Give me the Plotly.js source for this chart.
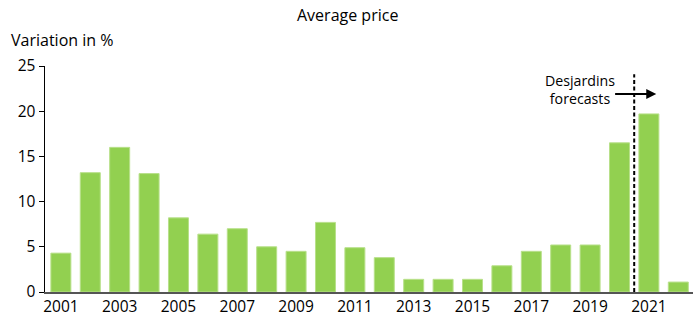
<!DOCTYPE html>
<html><head><meta charset="utf-8">
<script src="https://cdn.plot.ly/plotly-3.0.1.min.js"></script>
<style>html,body{margin:0;padding:0;background:#fff}#c{width:697px;height:316px}</style>
</head><body><div id="c"></div>
<script>
const years = [2001,2002,2003,2004,2005,2006,2007,2008,2009,2010,2011,2012,2013,2014,2015,2016,2017,2018,2019,2020,2021,2022];
const variation = [4.3,13.2,16.0,13.1,8.2,6.4,7.0,5.0,4.5,7.7,4.9,3.8,1.4,1.4,1.4,2.9,4.5,5.2,5.2,16.5,19.7,1.1];
const tickYears = [2001,2003,2005,2007,2009,2011,2013,2015,2017,2019,2021];
const yTicks = [0,5,10,15,20,25];
const forecastStart = 2020.5;

const font = {family:'"Open Sans", "Noto Sans", sans-serif', color:'#000'};
const f = s => Object.assign({size:s}, font);
const data = [{
  type:'bar', x:years, y:variation,
  marker:{color:'#92D050', line:{color:'#b8e08a', width:1}},
  width:0.68, hoverinfo:'skip'
}];
const layout = {
  width:697, height:316,
  margin:{l:45, r:4, t:66, b:23.5},
  paper_bgcolor:'#fff', plot_bgcolor:'#fff',
  showlegend:false,
  font:f(15),
  xaxis:{range:[2000.46,2022.5], tickvals:tickYears, ticktext:tickYears.map(String),
    showgrid:false, zeroline:false, showline:true, linecolor:'#555', linewidth:1.5,
    ticks:'', tickfont:f(15.5)},
  yaxis:{range:[0,25], tickvals:yTicks, showgrid:false, zeroline:false,
    showline:true, linecolor:'#000', linewidth:1.5, ticks:'outside', ticklen:5,
    tickcolor:'#000', tickwidth:1, tickfont:f(15.5)},
  shapes:[{type:'line', xref:'x', yref:'y', x0:forecastStart, x1:forecastStart, y0:0, y1:24.1,
    line:{color:'#000', width:2, dash:'4px,2.5px'}}],
  annotations:[
    {text:'Average price', xref:'paper', yref:'paper', x:0.467, y:1, yshift:51, xanchor:'center', yanchor:'middle', showarrow:false, font:f(16)},
    {text:'Variation in %', xref:'paper', yref:'paper', x:0, xshift:-36, y:1, yshift:26, xanchor:'left', yanchor:'middle', showarrow:false, font:f(16)},
    {text:'Desjardins<br>forecasts', xref:'x', yref:'y', x:2018.65, y:22.35, xanchor:'center', yanchor:'middle', showarrow:false, font:f(14.2)},
    {text:'', xref:'x', yref:'y', x:2021.25, y:21.9, ax:2019.8, ay:21.9, axref:'x', ayref:'y', showarrow:true, arrowhead:2, arrowsize:1, arrowwidth:2, arrowcolor:'#000'}
  ]
};
Plotly.newPlot('c', data, layout, {staticPlot:true, displayModeBar:false});
</script></body></html>
